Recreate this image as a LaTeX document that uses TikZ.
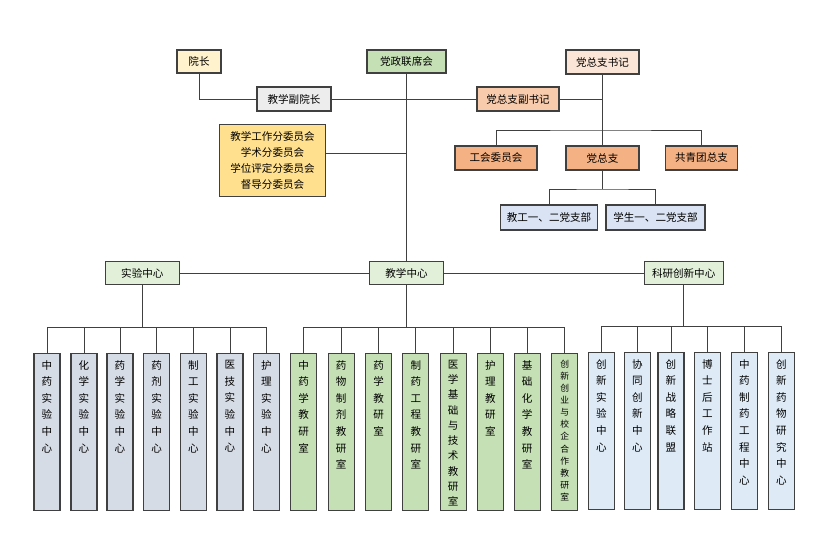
\documentclass[tikz,border=0pt]{standalone}
\usepackage{fontspec}
\setmainfont{Noto Sans CJK SC}
\definecolor{linegray}{HTML}{404040}
\definecolor{yzfill}{HTML}{FFF2CC}
\definecolor{lxfill}{HTML}{C5E0B4}
\definecolor{sjfill}{HTML}{FBE5D6}
\definecolor{fyfill}{HTML}{EDEDED}
\definecolor{fsfill}{HTML}{F8CBAD}
\definecolor{wyfill}{HTML}{FFE08E}
\definecolor{zzfill}{HTML}{F4B183}
\definecolor{dbfill}{HTML}{DAE3F3}
\definecolor{zxfill}{HTML}{E2F0D9}
\definecolor{labfill}{HTML}{D6DCE5}
\definecolor{teachfill}{HTML}{C5E0B4}
\definecolor{resfill}{HTML}{DEEBF7}
\newcommand\colstack[1]{\parbox[t][4.71cm][t]{0.78cm}{\centering\fontsize{9}{14.2}\selectfont\vspace*{0.2cm}#1}}
\begin{document}
\begin{tikzpicture}[x=0.03cm, y=-0.03cm,
  box/.style={draw=linegray, line width=0.9pt, inner sep=0pt, font=\fontsize{9}{13.6}\selectfont},
  boxsize/.style 2 args={minimum width=#1cm, minimum height=#2cm},
  vbox/.style={box, anchor=north},
  conn/.style={draw=linegray, line width=0.8pt}]
\fill[white] (0,0) rectangle (829,557);
\useasboundingbox (0,0) rectangle (829,557);
% top level
\node[box, boxsize={1.32}{0.69}, fill=yzfill] (yuanzhang) at (199,61.5) {院长};
\node[box, boxsize={2.37}{0.69}, fill=lxfill] (lianxi) at (406.5,61.5) {党政联席会};
\node[box, boxsize={2.19}{0.72}, fill=sjfill] (shuji) at (602.5,62) {党总支书记};
\node[box, boxsize={2.22}{0.72}, fill=fyfill] (fuyuan) at (294,99) {教学副院长};
\node[box, boxsize={2.46}{0.72}, fill=fsfill] (fushuji) at (518,99) {党总支副书记};
\node[box, boxsize={3.18}{2.16}, fill=wyfill, align=center] (weiyuan) at (272.5,160.5) {教学工作分委员会\\学术分委员会\\学位评定分委员会\\督导分委员会};
\draw[conn] (yuanzhang) |- (fuyuan);
\draw[conn] (fuyuan) -- (fushuji);
\draw[conn] (fushuji) -- (fushuji -| shuji);
% party branch
\node[box, boxsize={2.46}{0.72}, fill=zzfill] (gonghui) at (496,158) {工会委员会};
\node[box, boxsize={2.19}{0.72}, fill=zzfill] (zongzhi) at (602.5,158) {党总支};
\node[box, boxsize={2.16}{0.72}, fill=zzfill] (tuan) at (701.5,158) {共青团总支};
\node[box, boxsize={2.91}{0.75}, fill=dbfill] (jiaogong) at (549,217.5) {教工一、二党支部};
\node[box, boxsize={2.97}{0.75}, fill=dbfill] (xuesheng) at (655.5,217.5) {学生一、二党支部};
\coordinate (partybar) at (602.5,130);
\coordinate (branchbar) at (602.5,189);
\draw[conn] (shuji) -- (zongzhi);
\draw[conn] (gonghui) |- (partybar) -| (tuan);
\draw[conn] (zongzhi) -- (branchbar);
\draw[conn] (jiaogong) |- (branchbar) -| (xuesheng);
% centres
\node[box, boxsize={2.22}{0.69}, fill=zxfill] (shiyan) at (142.3,273.3) {实验中心};
\node[box, boxsize={2.22}{0.69}, fill=zxfill] (jiaoxue) at (406.5,273.3) {教学中心};
\node[box, boxsize={2.37}{0.69}, fill=zxfill] (keyan) at (683.7,273.3) {科研创新中心};
\coordinate (wyjoin) at (406.5,153.3);
\draw[conn] (lianxi) -- (jiaoxue);
\draw[conn] (weiyuan.east |- wyjoin) -- (wyjoin);
\draw[conn] (shiyan) -- (jiaoxue) -- (keyan);
% lab centres
\coordinate (labbar) at (142.3,327.3);
\draw[conn] (shiyan) -- (labbar);
\foreach \x/\t [count=\i] in {47/{中\\药\\实\\验\\中\\心}, 84/{化\\学\\实\\验\\中\\心},
  120/{药\\学\\实\\验\\中\\心}, 156.7/{药\\剂\\实\\验\\中\\心}, 193.3/{制\\工\\实\\验\\中\\心},
  230/{医\\技\\实\\验\\中\\心}, 266.3/{护\\理\\实\\验\\中\\心}}{
  \node[vbox, fill=labfill] (lab\i) at (\x,353) {\colstack{\t}};
  \draw[conn] (lab\i) |- (labbar);
}
% teaching offices
\coordinate (teachbar) at (406.5,327.5);
\draw[conn] (jiaoxue) -- (teachbar);
\foreach \x/\t [count=\i] in {303.7/{中\\药\\学\\教\\研\\室}, 341.2/{药\\物\\制\\剂\\教\\研\\室},
  378.7/{药\\学\\教\\研\\室}, 415.8/{制\\药\\工\\程\\教\\研\\室},
  453.2/{\fontsize{9}{13}\selectfont 医\\学\\基\\础\\与\\技\\术\\教\\研\\室}, 490.3/{护\\理\\教\\研\\室},
  527.2/{基\\础\\化\\学\\教\\研\\室},
  564.7/{\fontsize{7.5}{10.3}\selectfont 创\\新\\创\\业\\与\\校\\企\\合\\作\\教\\研\\室}}{
  \node[vbox, fill=teachfill] (teach\i) at (\x,353) {\colstack{\t}};
  \draw[conn] (teach\i) |- (teachbar);
}
% research centres
\coordinate (resbar) at (683.7,326.7);
\draw[conn] (keyan) -- (resbar);
\foreach \x/\t [count=\i] in {601.5/{创\\新\\实\\验\\中\\心}, 637.5/{协\\同\\创\\新\\中\\心},
  671/{创\\新\\战\\略\\联\\盟}, 707.5/{博\\士\\后\\工\\作\\站},
  744.5/{中\\药\\制\\药\\工\\程\\中\\心}, 781.5/{创\\新\\药\\物\\研\\究\\中\\心}}{
  \node[vbox, fill=resfill] (res\i) at (\x,352) {\colstack{\t}};
  \draw[conn] (res\i) |- (resbar);
}
\end{tikzpicture}
\end{document}
